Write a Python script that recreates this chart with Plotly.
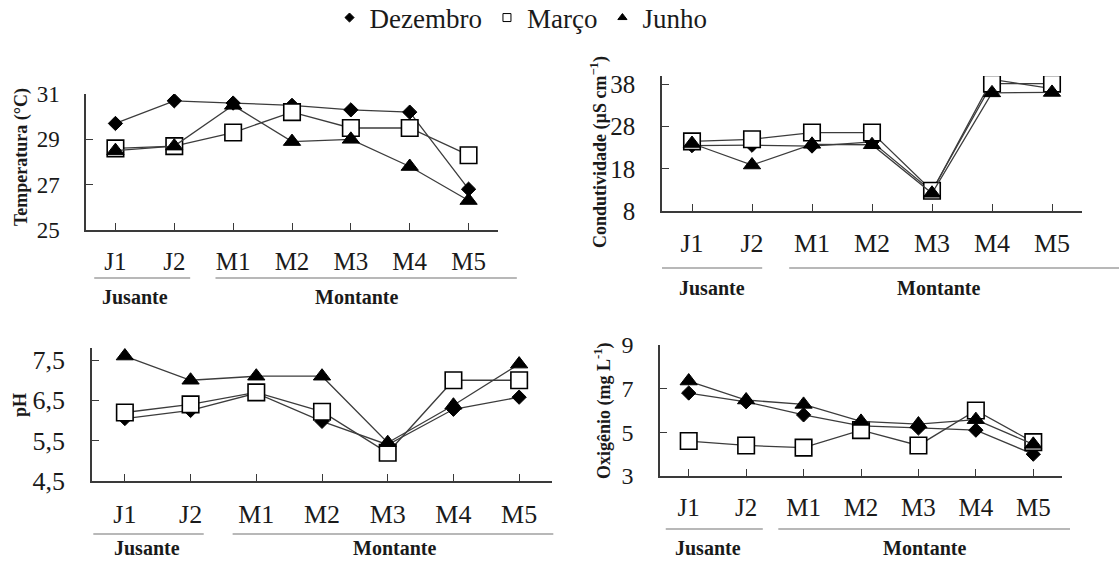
import plotly.graph_objects as go

# ---------------- data ----------------
sites = ["J1", "J2", "M1", "M2", "M3", "M4", "M5"]
series_names = ["Dezembro", "Março", "Junho"]

temp_dez = [29.7, 30.7, 30.6, 30.5, 30.3, 30.2, 26.8]
temp_mar = [28.6, 28.7, 29.3, 30.2, 29.5, 29.5, 28.3]
temp_jun = [28.5, 28.7, 30.5, 28.9, 29.0, 27.8, 26.3]

cond_dez = [23.5, 23.6, 23.4, 24.4, 12.6, 39.2, 37.0]
cond_mar = [24.5, 25.0, 26.6, 26.6, 12.8, 38.2, 38.2]
cond_jun = [24.0, 18.9, 23.8, 23.7, 12.2, 36.0, 36.1]

ph_dez = [6.05, 6.25, 6.68, 5.98, 5.40, 6.28, 6.58]
ph_mar = [6.20, 6.40, 6.70, 6.22, 5.20, 7.00, 7.00]
ph_jun = [7.60, 7.00, 7.10, 7.10, 5.45, 6.38, 7.40]

oxi_dez = [6.80, 6.40, 5.80, 5.30, 5.20, 5.10, 4.00]
oxi_mar = [4.60, 4.40, 4.30, 5.10, 4.40, 6.00, 4.55]
oxi_jun = [7.35, 6.48, 6.28, 5.50, 5.38, 5.58, 4.45]

temp_ticks = [25, 27, 29, 31]
cond_ticks = [8, 18, 28, 38]
ph_ticks = [4.5, 5.5, 6.5, 7.5]
ph_ticktext = ["4,5", "5,5", "6,5", "7,5"]
oxi_ticks = [3, 5, 7, 9]

group_labels = ["Jusante", "Montante"]

# ---------------- layout helpers ----------------
W, H = 1119, 564
def xd(a, b):
    return [a / W, b / W]
def yd(top, bottom):
    return [1 - bottom / H, 1 - top / H]
def yp(p):
    return 1 - p / H

FONT = "Liberation Serif, Times New Roman, serif"
AX = "#3a3a3a"
LINE = "#3c3c3c"

marker_styles = {
    "Dezembro": dict(symbol="diamond", size=11, fill="black", lw=1),
    "Março": dict(symbol="square", size=16.5, fill="white", lw=1.6),
    "Junho": dict(symbol="triangle-up", size=15, fill="black", lw=1),
}

panels = [
    ([temp_dez, temp_mar, temp_jun], "x", "y"),
    ([cond_dez, cond_mar, cond_jun], "x2", "y2"),
    ([ph_dez, ph_mar, ph_jun], "x3", "y3"),
    ([oxi_dez, oxi_mar, oxi_jun], "x4", "y4"),
]

fig = go.Figure()
for vals, xa, ya in panels:
    for name, v in zip(series_names, vals):
        ms = marker_styles[name]
        fig.add_trace(go.Scatter(
            x=sites, y=v, xaxis=xa, yaxis=ya, mode="lines+markers",
            name=name, showlegend=False,
            line=dict(color=LINE, width=1.3),
            marker=dict(symbol=ms["symbol"], size=ms["size"], color=ms["fill"],
                        line=dict(color="black", width=ms["lw"])),
        ))

# legend-only entries
for name in series_names:
    ms = marker_styles[name]
    fig.add_trace(go.Scatter(
        x=[None], y=[None], mode="markers", name=name, showlegend=True,
        marker=dict(symbol=ms["symbol"], size=8 if name != "Dezembro" else 7,
                    color=ms["fill"], line=dict(color="black", width=1)),
    ))

def xaxis(dom, anchor, size, standoff):
    return dict(domain=dom, anchor=anchor, type="category", range=[-0.5, 6.5],
                showline=True, linecolor=AX, linewidth=1.5, ticks="inside",
                ticklen=7, tickwidth=1.3, tickcolor=AX, showgrid=False, zeroline=False,
                minor=dict(ticks="inside", tickmode="array", tickvals=[len(sites) - 0.5],
                           ticklen=7, tickwidth=1.3, tickcolor=AX, showgrid=False),
                tickfont=dict(family=FONT, size=size, color="#1a1a1a"),
                ticklabelstandoff=standoff, fixedrange=True)

def yaxis(dom, anchor, rng, tv, tt, size):
    return dict(domain=dom, anchor=anchor, range=rng, tickmode="array", tickvals=tv, ticktext=tt,
                showline=True, linecolor=AX, linewidth=1.5, ticks="inside",
                ticklen=7, tickwidth=1.3, tickcolor=AX, showgrid=False, zeroline=False,
                tickfont=dict(family=FONT, size=size, color="#1a1a1a"),
                ticklabelstandoff=20, fixedrange=True)

x_doms = {"x": xd(86, 498), "x2": xd(662, 1082), "x3": xd(92, 552), "x4": xd(660, 1062)}

layout = dict(
    width=W, height=H, margin=dict(l=0, r=0, t=0, b=0, autoexpand=False),
    paper_bgcolor="white", plot_bgcolor="white",
    font=dict(family=FONT, color="#1a1a1a"),
    xaxis=xaxis(x_doms["x"], "y", 25, 8),
    yaxis=yaxis(yd(94, 230), "x", [25, 31], temp_ticks, [str(t) for t in temp_ticks], 23),
    xaxis2=xaxis(x_doms["x2"], "y2", 26, 8),
    yaxis2=yaxis(yd(76, 211), "x2", [8, 40], cond_ticks, [str(t) for t in cond_ticks], 25),
    xaxis3=xaxis(x_doms["x3"], "y3", 26, 9),
    yaxis3=yaxis(yd(348, 481), "x3", [4.5, 7.8], ph_ticks, ph_ticktext, 26),
    xaxis4=xaxis(x_doms["x4"], "y4", 25, 8),
    yaxis4=yaxis(yd(345, 476), "x4", [3, 9], oxi_ticks, [str(t) for t in oxi_ticks], 24),
    showlegend=True,
    legend=dict(orientation="h", x=521 / W, xanchor="center", y=yp(18), yanchor="middle",
                font=dict(family=FONT, size=27, color="#1a1a1a"), itemwidth=30,
                bgcolor="rgba(0,0,0,0)", tracegroupgap=0),
)
fig.update_layout(**layout)

# axis titles (bold, rotated)
titles = [
    ("Temperatura (°C)", 21, 157),
    ("Condutividade (µS cm<sup>−1</sup>)", 599, 152),
    ("pH", 20, 405),
    ("Oxigênio (mg L<sup>-1</sup>)", 603, 411),
]
for txt, px, py in titles:
    fig.add_annotation(text="<b>" + txt + "</b>", xref="paper", yref="paper",
                       x=px / W, y=yp(py), xanchor="center", yanchor="middle",
                       textangle=-90, showarrow=False,
                       font=dict(family=FONT, size=18, color="#1a1a1a"))

# group underlines and labels (Jusante / Montante) under each panel
# spans are given in category units (J1 = 0 ... M5 = 6) and converted to paper
# coordinates so the lines are not clipped at the end of the axis
def cat2paper(xa, c):
    d0, d1 = x_doms[xa]
    return d0 + (c + 0.5) / 7.0 * (d1 - d0)

group_rows = [
    ("x", 278, 297, (-0.36, 1.27), (1.70, 6.82)),
    ("x2", 268, 288, (-0.50, 1.17), (1.62, 7.30)),
    ("x3", 534, 548, (-0.48, 1.20), (1.64, 6.52)),
    ("x4", 529, 548, (-0.40, 1.29), (1.56, 6.64)),
]
label_pos = [0.33, 4.1]
for xa, line_y, text_y, jspan, mspan in group_rows:
    for (x0, x1), xc, lab in zip([jspan, mspan], label_pos, group_labels):
        fig.add_shape(type="line", xref="paper", yref="paper",
                      x0=cat2paper(xa, x0), x1=min(cat2paper(xa, x1), 1.0),
                      y0=yp(line_y), y1=yp(line_y), line=dict(color="#a0a0a0", width=1.6))
        fig.add_annotation(text="<b>" + lab + "</b>", xref="paper", yref="paper",
                           x=cat2paper(xa, xc), y=yp(text_y), xanchor="center", yanchor="middle",
                           showarrow=False, font=dict(family=FONT, size=20, color="#1a1a1a"))

fig.write_html(
    "out.html",
    config={"displayModeBar": False},
    post_script="document.documentElement.style.margin='0';document.body.style.margin='0';"
                "document.body.style.padding='0';document.body.style.overflow='hidden';"
                "document.documentElement.style.overflow='hidden';",
)
